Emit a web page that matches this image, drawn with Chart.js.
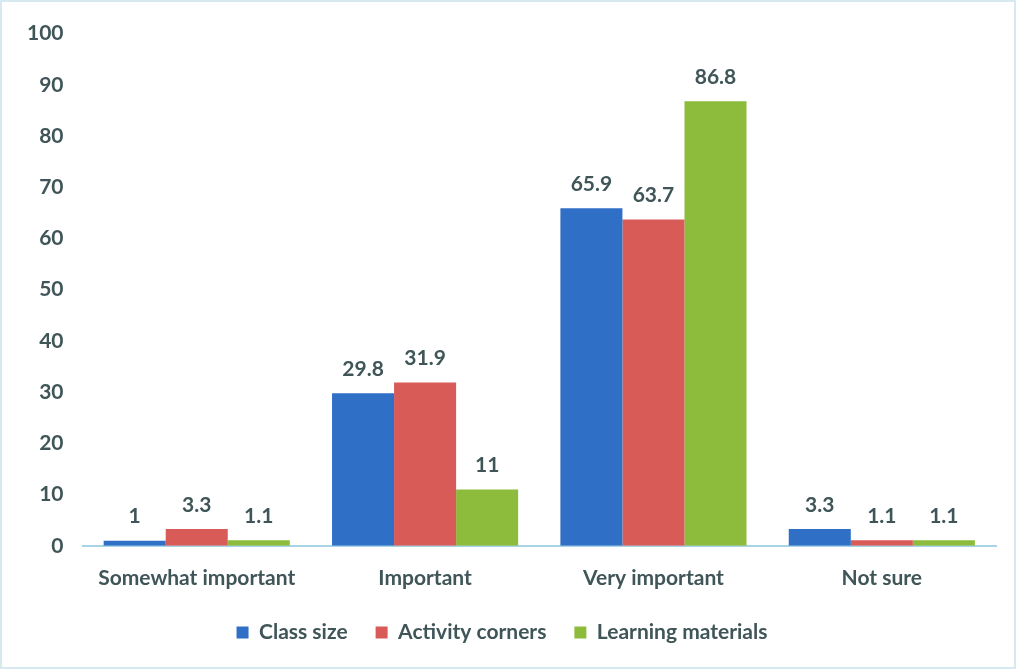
<!DOCTYPE html>
<html>
<head>
<meta charset="utf-8">
<script src="https://cdn.jsdelivr.net/npm/chart.js@4/dist/chart.umd.min.js"></script>
<style>
    body { margin: 0; background: #fff; }
    #wrap { position: relative; width: 1016px; height: 669px; box-sizing: border-box; border: 2px solid #d6e8f0; }
</style>
</head>
<body>
<div id="wrap"><canvas id="barChart"></canvas></div>
<script>
var categories = ['Somewhat important', 'Important', 'Very important', 'Not sure'];
var classSize = [1, 29.8, 65.9, 3.3];
var activityCorners = [3.3, 31.9, 63.7, 1.1];
var learningMaterials = [1.1, 11, 86.8, 1.1];
var yTicks = [0, 10, 20, 30, 40, 50, 60, 70, 80, 90, 100];

var textColor = '#3f5558';
var fontName = 'Lato, "Open Sans", sans-serif';
var fontSize = 21;

// values printed over each bar
var valueLabels = {
    id: 'valueLabels',
    afterDatasetsDraw: function (chart) {
        var ctx = chart.ctx;
        ctx.save();
        ctx.font = 'bold ' + fontSize + 'px ' + fontName;
        ctx.fillStyle = textColor;
        ctx.textAlign = 'center';
        ctx.textBaseline = 'middle';
        chart.data.datasets.forEach(function (ds, i) {
            chart.getDatasetMeta(i).data.forEach(function (bar, j) {
                ctx.fillText(String(ds.data[j]), bar.x, bar.y - 24);
            });
        });
        ctx.restore();
    }
};

var ctx = document.getElementById('barChart').getContext('2d');
var chart = new Chart(ctx, {
    type: 'bar',
    data: {
        labels: categories,
        datasets: [{
            label: 'Class size',
            data: classSize,
            backgroundColor: '#2f6fc6'
        }, {
            label: 'Activity corners',
            data: activityCorners,
            backgroundColor: '#d95b58'
        }, {
            label: 'Learning materials',
            data: learningMaterials,
            backgroundColor: '#8dbb3b'
        }]
    },
    options: {
        responsive: true,
        maintainAspectRatio: false,
        animation: false,
        layout: { padding: { top: 24, right: 18, left: 6, bottom: 14 } },
        datasets: { bar: { categoryPercentage: 0.815, barPercentage: 1 } },
        scales: {
            x: {
                grid: { display: false, drawTicks: false },
                border: { display: true, color: '#a9d3e6', width: 2 },
                ticks: { color: textColor, font: { family: fontName, size: fontSize, weight: 'bold' }, padding: 20 },
                afterFit: function (scale) { scale.height -= 17; }
            },
            y: {
                min: 0,
                max: 100,
                afterBuildTicks: function (axis) {
                    axis.ticks = yTicks.map(function (v) { return { value: v }; });
                },
                grid: { display: false, drawTicks: false },
                border: { display: false },
                ticks: { color: textColor, font: { family: fontName, size: fontSize, weight: 'bold' }, padding: 19 }
            }
        },
        plugins: {
            legend: {
                position: 'bottom',
                labels: {
                    color: textColor,
                    font: { family: fontName, size: fontSize, weight: 'bold' },
                    boxWidth: 12,
                    boxHeight: 12,
                    padding: 28
                }
            },
            tooltip: { enabled: false }
        }
    },
    plugins: [valueLabels]
});
</script>
</body>
</html>
